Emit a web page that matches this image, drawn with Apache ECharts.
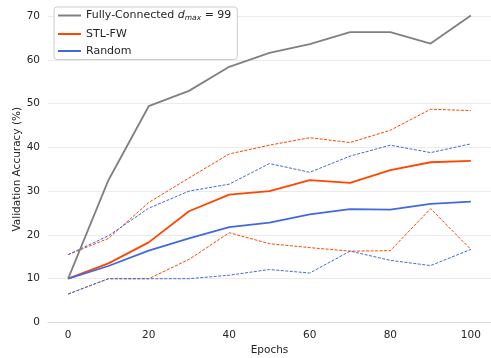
<!DOCTYPE html>
<html>
<head>
<meta charset="utf-8">
<script src="https://cdn.jsdelivr.net/npm/echarts@6/dist/echarts.min.js"></script>
<style>html,body{margin:0;padding:0;background:#fff;}#c{width:491px;height:358px;}</style>
</head>
<body>
<div id="c"></div>
<script>
const epochs = [0, 10, 20, 30, 40, 50, 60, 70, 80, 90, 100];
const fcAcc    = [10, 32.5, 49.4, 52.9, 58.4, 61.6, 63.6, 66.3, 66.3, 63.7, 70.1];
const stlMean  = [10, 13.5, 18.3, 25.4, 29.2, 30.0, 32.5, 31.9, 34.8, 36.6, 36.9];
const stlUpper = [15.5, 19.2, 27.4, 33.0, 38.5, 40.5, 42.2, 41.1, 43.9, 48.7, 48.4];
const stlLower = [6.5, 10, 10, 14.4, 20.5, 18.0, 17.1, 16.3, 16.4, 26.0, 16.7];
const rndMean  = [10, 12.9, 16.4, 19.2, 21.8, 22.8, 24.7, 25.9, 25.8, 27.1, 27.6];
const rndUpper = [15.5, 19.8, 26.1, 30.0, 31.6, 36.3, 34.3, 38.0, 40.5, 38.8, 40.8];
const rndLower = [6.5, 10, 10, 10, 10.8, 12.1, 11.3, 16.3, 14.2, 13.0, 16.7];
const xTicks = [0, 20, 40, 60, 80, 100];

const FC = 'Fully-Connected', STL = 'STL-FW', RND = 'Random';
const cGray = '#808080', cOrange = '#ff4500', cBlue = '#4169e1';
const font = 'DejaVu Sans';
const pts = arr => epochs.map((e, i) => [e, arr[i]]);

function solid(name, arr, color, z) {
  return { name, type: 'line', data: pts(arr), symbol: 'none', clip: false, z,
    lineStyle: { color, width: 1.8 }, itemStyle: { color } };
}
function dashed(name, arr, color) {
  return { name, type: 'line', data: pts(arr), symbol: 'none', clip: false, z: 2,
    lineStyle: { color, width: 1, type: [3, 1.5] }, itemStyle: { color } };
}

const chart = echarts.init(document.getElementById('c'), null, { renderer: 'canvas' });
chart.setOption({
  animation: false,
  backgroundColor: '#fff',
  textStyle: { fontFamily: font },
  grid: { left: 48, right: 0, top: 16, bottom: 35.5, containLabel: false, outerBoundsMode: 'none' },
  legend: {
    data: [FC, STL, RND],
    orient: 'vertical',
    left: 54, top: 7,
    itemWidth: 23, itemHeight: 10, itemGap: 6,
    padding: [3, 6, 3, 4],
    borderColor: '#cccccc', borderWidth: 1, borderRadius: 3,
    backgroundColor: '#ffffff',
    icon: 'path://M0,4 L23,4 L23,6 L0,6 Z',
    formatter: n => n === FC ? '{n|Fully-Connected }{i|d}{s|max}{n| = 99}' : '{n|' + n + '}',
    textStyle: {
      fontFamily: font, fontSize: 11, color: '#262626',
      rich: {
        n: { fontFamily: font, fontSize: 11, color: '#262626' },
        i: { fontFamily: font, fontSize: 11, fontStyle: 'italic', color: '#262626' },
        s: { fontFamily: font, fontSize: 7.5, fontStyle: 'italic', color: '#262626', padding: [6, 0, 0, 0] }
      }
    }
  },
  xAxis: {
    type: 'value', min: -5, max: 105, interval: 5,
    name: 'Epochs', nameLocation: 'middle', nameGap: 22, nameMoveOverlap: false,
    nameTextStyle: { fontFamily: font, fontSize: 10.5, color: '#262626' },
    axisLine: { show: true, lineStyle: { color: '#d6d6d6', width: 1 } },
    axisTick: { show: false },
    splitLine: { show: false },
    axisLabel: {
      fontFamily: font, fontSize: 10.5, color: '#262626', margin: 7,
      formatter: v => xTicks.includes(v) ? String(v) : ''
    }
  },
  yAxis: {
    type: 'value', min: 0, max: 70, interval: 10,
    name: 'Validation Accuracy (%)', nameLocation: 'middle', nameGap: 25, nameMoveOverlap: false,
    nameTextStyle: { fontFamily: font, fontSize: 10.5, color: '#262626' },
    axisLine: { show: false },
    axisTick: { show: false },
    splitLine: { show: true, lineStyle: { color: '#ebebeb', width: 1 } },
    axisLabel: { fontFamily: font, fontSize: 10.5, color: '#262626', margin: 8 }
  },
  series: [
    dashed('stlUpper', stlUpper, cOrange),
    dashed('stlLower', stlLower, cOrange),
    dashed('rndUpper', rndUpper, cBlue),
    dashed('rndLower', rndLower, cBlue),
    solid(FC, fcAcc, cGray, 5),
    solid(STL, stlMean, cOrange, 4),
    solid(RND, rndMean, cBlue, 4)
  ]
});
</script>
</body>
</html>
